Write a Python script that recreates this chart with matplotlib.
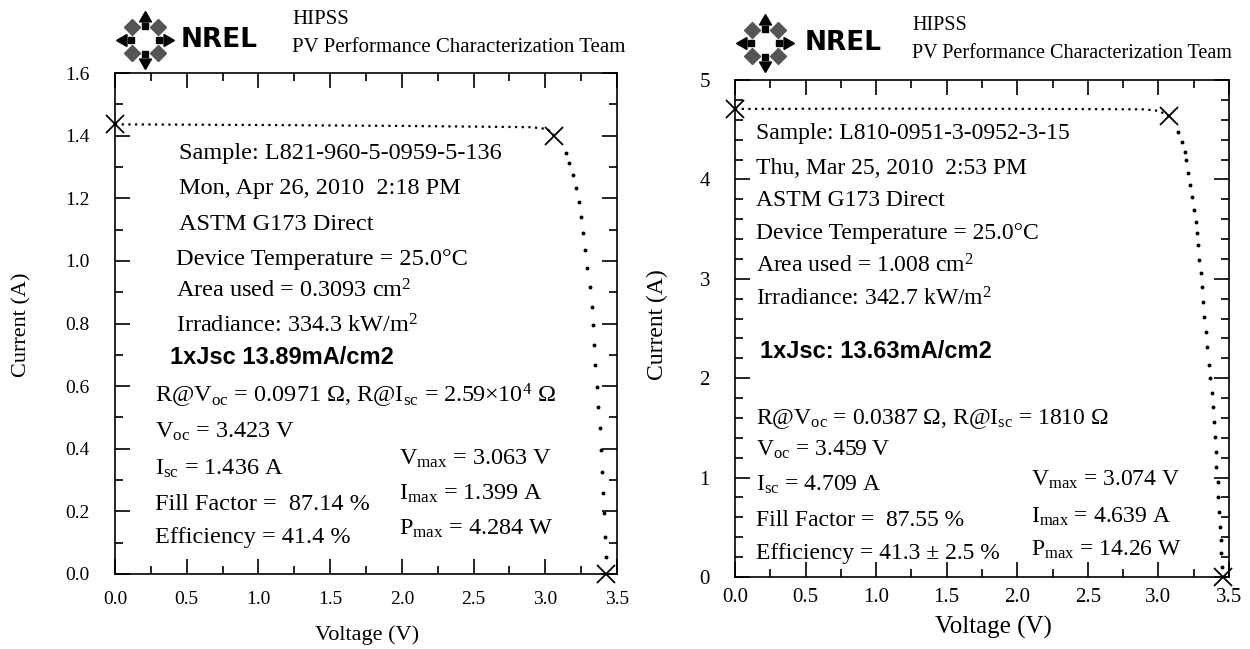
import matplotlib.pyplot as plt
import numpy as np
from matplotlib.ticker import MultipleLocator, FormatStrFormatter

plt.rcParams["font.family"] = "Liberation Serif"
plt.rcParams["mathtext.fontset"] = "custom"
plt.rcParams["mathtext.rm"] = "Liberation Serif"
plt.rcParams["mathtext.it"] = "Liberation Serif:italic"
plt.rcParams["mathtext.bf"] = "Liberation Serif:bold"

# ---- left cell: L821-960-5-0959-5-136 ----
left_flat_v = [0.0, 1.0, 2.0, 2.9, 3.016, 3.063]
left_flat_i = [1.436, 1.434, 1.431, 1.427, 1.421, 1.399]
left_knee_v = [3.141, 3.168, 3.190, 3.215, 3.238, 3.251, 3.265, 3.279, 3.293,
               3.312, 3.329, 3.335, 3.342, 3.348, 3.362, 3.370, 3.381, 3.389,
               3.398, 3.403, 3.412, 3.417, 3.423]
left_knee_i = [1.343, 1.314, 1.274, 1.234, 1.189, 1.141, 1.088, 1.035, 0.976,
               0.918, 0.854, 0.795, 0.731, 0.667, 0.598, 0.534, 0.466, 0.396,
               0.327, 0.258, 0.194, 0.119, 0.055]
left_mark_v = [0.0, 3.063, 3.423]
left_mark_i = [1.436, 1.399, 0.0]

left_header = [
    "Sample: L821-960-5-0959-5-136",
    "Mon, Apr 26, 2010  2:18 PM",
    "ASTM G173 Direct",
    "Device Temperature = 25.0°C",
    "Area used = 0.3093 cm$^2$",
    "Irradiance: 334.3 kW/m$^2$",
]
left_jsc = "1xJsc 13.89mA/cm2"
left_results = [
    r"R@V$_{\mathrm{oc}}$ = 0.0971 Ω, R@I$_{\mathrm{sc}}$ = 2.59×10$^4$ Ω",
    r"V$_{\mathrm{oc}}$ = 3.423 V",
    r"I$_{\mathrm{sc}}$ = 1.436 A",
    "Fill Factor =  87.14 %",
    "Efficiency = 41.4 %",
]
left_max = [
    r"V$_{\mathrm{max}}$ = 3.063 V",
    r"I$_{\mathrm{max}}$ = 1.399 A",
    r"P$_{\mathrm{max}}$ = 4.284 W",
]

# ---- right cell: L810-0951-3-0952-3-15 ----
right_flat_v = [0.0, 1.0, 2.0, 2.9, 3.0, 3.074]
right_flat_i = [4.709, 4.712, 4.710, 4.705, 4.690, 4.639]
right_knee_v = [3.139, 3.166, 3.185, 3.193, 3.207, 3.221, 3.240, 3.254, 3.268,
                3.273, 3.281, 3.290, 3.301, 3.309, 3.314, 3.323, 3.336, 3.345,
                3.358, 3.364, 3.377, 3.386, 3.391, 3.399, 3.405, 3.410, 3.419,
                3.424, 3.432, 3.437, 3.440, 3.446, 3.452]
right_knee_i = [4.480, 4.380, 4.280, 4.195, 4.060, 3.940, 3.826, 3.690, 3.574,
                3.457, 3.340, 3.190, 3.055, 2.920, 2.770, 2.620, 2.468, 2.317,
                2.133, 1.999, 1.848, 1.713, 1.562, 1.411, 1.260, 1.110, 0.959,
                0.808, 0.657, 0.506, 0.372, 0.238, 0.104]
right_mark_v = [0.0, 3.074, 3.459]
right_mark_i = [4.709, 4.639, 0.0]

right_header = [
    "Sample: L810-0951-3-0952-3-15",
    "Thu, Mar 25, 2010  2:53 PM",
    "ASTM G173 Direct",
    "Device Temperature = 25.0°C",
    "Area used = 1.008 cm$^2$",
    "Irradiance: 342.7 kW/m$^2$",
]
right_jsc = "1xJsc: 13.63mA/cm2"
right_results = [
    r"R@V$_{\mathrm{oc}}$ = 0.0387 Ω, R@I$_{\mathrm{sc}}$ = 1810 Ω",
    r"V$_{\mathrm{oc}}$ = 3.459 V",
    r"I$_{\mathrm{sc}}$ = 4.709 A",
    "Fill Factor =  87.55 %",
    "Efficiency = 41.3 ± 2.5 %",
]
right_max = [
    r"V$_{\mathrm{max}}$ = 3.074 V",
    r"I$_{\mathrm{max}}$ = 4.639 A",
    r"P$_{\mathrm{max}}$ = 14.26 W",
]

W, H = 1250, 649
fig = plt.figure(figsize=(W / 100, H / 100), dpi=100)


def put(x, y, s, **kw):
    # x, y in pixels from top-left; y is the middle of the capitals
    kw.setdefault("fontsize", 17)
    fig.text(x / W, 1 - (y + 7.5) / H, s, va="baseline", **kw)


def logo(cx, cy):
    ov = fig.add_axes([0, 0, 1, 1], zorder=-1)
    ov.set_xlim(0, W)
    ov.set_ylim(H, 0)
    ov.axis("off")
    r = 22
    for ang, rot in [(0, -90), (90, 0), (180, 90), (270, 180)]:
        dx, dy = np.cos(np.radians(ang)), -np.sin(np.radians(ang))
        ov.plot(cx + r * dx, cy + r * dy, marker=(3, 0, rot), ms=10, color="black")
        ov.plot(cx + (r - 8) * dx, cy + (r - 8) * dy, marker="s", ms=5, color="black")
    for ang in [45, 135, 225, 315]:
        dx, dy = np.cos(np.radians(ang)), -np.sin(np.radians(ang))
        ov.plot(cx + (r - 4) * dx, cy + (r - 4) * dy, marker="D", ms=8, color="#555555")


logo(145, 40)
logo(765, 43)
fig.text(181 / W, 1 - 40 / H, "NREL", fontsize=19, fontweight="bold",
         family="DejaVu Sans", va="center")
fig.text(805 / W, 1 - 43 / H, "NREL", fontsize=19, fontweight="bold",
         family="DejaVu Sans", va="center")
put(292, 16, "HIPSS", fontsize=15)
put(292, 44, "PV Performance Characterization Team", fontsize=15)
put(912, 22, "HIPSS", fontsize=14.5)
put(912, 51, "PV Performance Characterization Team", fontsize=14.5)

ax1 = fig.add_axes([115 / W, 1 - 574 / H, 502 / W, 501 / H])
ax2 = fig.add_axes([735 / W, 1 - 577 / H, 494 / W, 497 / H])


def style(ax, ymax, ymaj, ymin, yfmt, size, xpad):
    ax.set_xlim(0, 3.5)
    ax.set_ylim(0, ymax)
    ax.xaxis.set_major_locator(MultipleLocator(0.5))
    ax.xaxis.set_minor_locator(MultipleLocator(0.25))
    ax.yaxis.set_major_locator(MultipleLocator(ymaj))
    ax.yaxis.set_minor_locator(MultipleLocator(ymin))
    ax.xaxis.set_major_formatter(FormatStrFormatter("%.1f"))
    ax.yaxis.set_major_formatter(FormatStrFormatter(yfmt))
    ax.tick_params(which="both", direction="in", top=True, right=True, width=1.2)
    ax.tick_params(which="major", length=11)
    ax.tick_params(which="minor", length=6)
    ax.tick_params(axis="x", pad=xpad, labelsize=size)
    ax.tick_params(axis="y", pad=18, labelsize=size)
    for s in ax.spines.values():
        s.set_linewidth(1.2)


def curve(ax, fv, fi, kv, ki, mv, mi):
    ax.plot(fv, fi, color="black", lw=1.6, linestyle=(0, (1, 2)))
    ax.plot(kv, ki, "o", color="black", ms=1.8)
    ax.plot(mv, mi, "x", color="black", ms=13, mew=1.3, clip_on=False)


style(ax1, 1.6, 0.2, 0.1, "%.1f", 14, 12)
style(ax2, 5, 1, 0.2, "%d", 15, 8)
curve(ax1, left_flat_v, left_flat_i, left_knee_v, left_knee_i, left_mark_v, left_mark_i)
curve(ax2, right_flat_v, right_flat_i, right_knee_v, right_knee_i, right_mark_v, right_mark_i)

fig.text(22 / W, 1 - 325 / H, "Current (A)", rotation=90, ha="center", va="center", fontsize=16)
fig.text(657 / W, 1 - 325 / H, "Current (A)", rotation=90, ha="center", va="center", fontsize=17)
fig.text(367 / W, 1 - 635 / H, "Voltage (V)", ha="center", va="center", fontsize=16)
fig.text(993 / W, 1 - 627 / H, "Voltage (V)", ha="center", va="center", fontsize=18)

# left panel text
for s, y in zip(left_header, [152, 187, 222, 257, 290, 325]):
    put(179 if y < 240 else 176, y, s, fontsize=17.5)
put(170, 357, left_jsc, family="Liberation Sans", fontweight="bold", fontsize=17)
for s, y in zip(left_results, [395, 430, 467, 502, 535]):
    put(155, y, s, fontsize=17.5)
for s, y in zip(left_max, [457, 492, 527]):
    put(399, y, s, fontsize=17.5)

# right panel text
for s, y in zip(right_header, [132, 166, 198, 232, 265, 298]):
    put(756, y, s)
put(760, 350, right_jsc, family="Liberation Sans", fontweight="bold")
for s, y in zip(right_results, [417, 448, 483, 518, 552]):
    put(756, y, s)
for s, y in zip(right_max, [478, 515, 548]):
    put(1031, y, s)

fig.savefig("out.png", dpi=100)
